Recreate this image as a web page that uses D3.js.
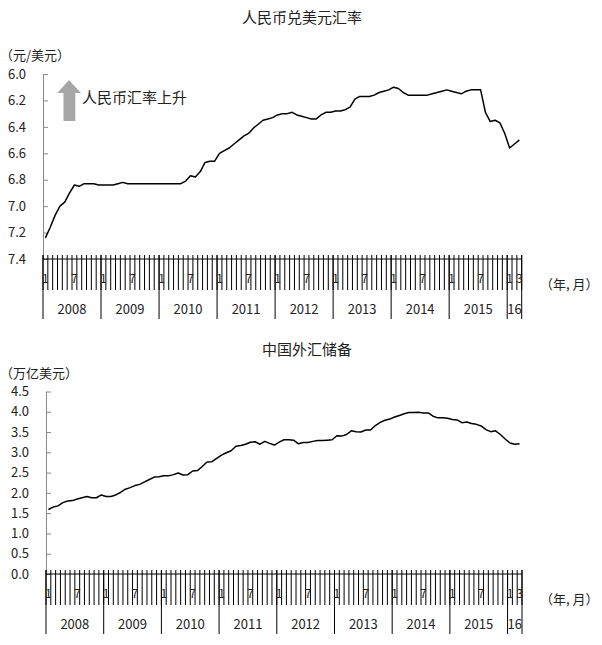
<!DOCTYPE html>
<html>
<head>
<meta charset="utf-8">
<script src="https://cdn.jsdelivr.net/npm/d3@7"></script>
<style>
  body { margin: 0; background: #fff; }
  svg text { font-family: "Noto Sans CJK SC", "Noto Sans", sans-serif; fill: #222; }
</style>
</head>
<body>
<svg id="chart" width="602" height="645"></svg>
<script>
// months Jan 2008 .. Mar 2016
const years = [2008, 2009, 2010, 2011, 2012, 2013, 2014, 2015, 2016];
const yearLabels = ['2008', '2009', '2010', '2011', '2012', '2013', '2014', '2015', '16'];
const months = years.flatMap(y => d3.range(1, y === 2016 ? 4 : 13).map(m => ({ y, m })));

// 人民币兑美元汇率 (元/美元)
const cnyRate = [
    7.24, 7.16, 7.07, 7.00, 6.97, 6.90, 6.84, 6.85, 6.83, 6.83, 6.83, 6.84,
    6.84, 6.84, 6.84, 6.83, 6.82, 6.83, 6.83, 6.83, 6.83, 6.83, 6.83, 6.83,
    6.83, 6.83, 6.83, 6.83, 6.83, 6.81, 6.77, 6.78, 6.74, 6.67, 6.66, 6.66,
    6.60, 6.58, 6.56, 6.53, 6.50, 6.47, 6.45, 6.41, 6.38, 6.35, 6.34, 6.33,
    6.31, 6.30, 6.30, 6.29, 6.31, 6.32, 6.33, 6.34, 6.34, 6.31, 6.29, 6.29,
    6.28, 6.28, 6.27, 6.25, 6.19, 6.17, 6.17, 6.17, 6.16, 6.14, 6.13, 6.12,
    6.10, 6.11, 6.14, 6.16, 6.16, 6.16, 6.16, 6.16, 6.15, 6.14, 6.13, 6.12,
    6.13, 6.14, 6.15, 6.13, 6.12, 6.12, 6.12, 6.29, 6.36, 6.35, 6.37, 6.45,
    6.56, 6.53, 6.50
];
// 中国外汇储备 (万亿美元)
const fxReserves = [
    1.59, 1.65, 1.68, 1.76, 1.80, 1.81, 1.85, 1.88, 1.91, 1.88, 1.88, 1.95,
    1.91, 1.91, 1.95, 2.01, 2.09, 2.13, 2.18, 2.21, 2.27, 2.33, 2.39, 2.40,
    2.42, 2.42, 2.45, 2.49, 2.44, 2.45, 2.54, 2.55, 2.65, 2.76, 2.77, 2.85,
    2.93, 2.99, 3.04, 3.15, 3.17, 3.20, 3.25, 3.26, 3.20, 3.27, 3.22, 3.18,
    3.25, 3.31, 3.31, 3.30, 3.21, 3.24, 3.24, 3.27, 3.29, 3.29, 3.30, 3.31,
    3.41, 3.40, 3.44, 3.53, 3.51, 3.50, 3.55, 3.55, 3.66, 3.74, 3.79, 3.82,
    3.87, 3.91, 3.95, 3.98, 3.98, 3.99, 3.97, 3.97, 3.89, 3.85, 3.85, 3.84,
    3.81, 3.80, 3.73, 3.75, 3.71, 3.69, 3.65, 3.56, 3.51, 3.53, 3.44, 3.33,
    3.23, 3.20, 3.21
];
const rateTicks = [6.0, 6.2, 6.4, 6.6, 6.8, 7.0, 7.2, 7.4];
const reserveTicks = [0, 0.5, 1, 1.5, 2, 2.5, 3, 3.5, 4, 4.5];

const svg = d3.select('#chart');

// category axis with month ticks and year groups
function monthAxis(g, x, y0) {
    const idx = d3.range(months.length);
    const bounds = idx.map(i => x(i)).concat([x.range()[1]]);
    const yearStart = years.map(y => months.findIndex(d => d.y === y));

    g.append('line')
        .attr('x1', x.range()[0]).attr('x2', x.range()[1])
        .attr('y1', y0).attr('y2', y0)
        .attr('stroke', '#000');
    g.selectAll('line.mt')
        .data(bounds)
        .enter().append('line')
        .attr('class', 'mt')
        .attr('x1', d => d).attr('x2', d => d)
        .attr('y1', y0 - 4).attr('y2', y0 + 31)
        .attr('stroke', '#000');
    g.selectAll('line.yt')
        .data(yearStart.map(i => x(i)).concat([x.range()[1]]))
        .enter().append('line')
        .attr('class', 'yt')
        .attr('x1', d => d).attr('x2', d => d)
        .attr('y1', y0 - 4).attr('y2', y0 + 60)
        .attr('stroke', '#000');
    g.selectAll('text.ml')
        .data(idx.filter(i => months[i].m === 1 || months[i].m === 7 || i === months.length - 1))
        .enter().append('text')
        .attr('class', 'ml')
        .attr('x', i => x(i) + x.bandwidth() / 2)
        .attr('y', y0 + 20)
        .attr('dy', '0.35em')
        .attr('text-anchor', 'middle')
        .attr('font-size', 12)
        .text(i => months[i].m);
    g.selectAll('text.yl')
        .data(years)
        .enter().append('text')
        .attr('class', 'yl')
        .attr('x', (y, k) => {
            const last = months.length - 1 - [...months].reverse().findIndex(d => d.y === y);
            return (x(yearStart[k]) + x(last) + x.bandwidth()) / 2;
        })
        .attr('y', y0 + 50)
        .attr('dy', '0.35em')
        .attr('text-anchor', 'middle')
        .attr('font-size', 13)
        .text((y, k) => yearLabels[k]);
}

function panel({ values, ticks, domain, top, bottom, left, right, axisY, fmt }) {
    const g = svg.append('g');
    const x = d3.scaleBand().domain(d3.range(months.length)).range([left, right]).paddingInner(0);
    const y = d3.scaleLinear().domain(domain).range([bottom, top]);

    const yAxis = d3.axisLeft(y)
        .tickValues(ticks)
        .tickFormat(fmt)
        .tickSizeInner(-5)
        .tickSizeOuter(0)
        .tickPadding(17);
    const ya = g.append('g')
        .attr('transform', `translate(${left},0)`)
        .call(yAxis);
    ya.select('.domain').attr('stroke', '#888');
    ya.selectAll('.tick line').attr('stroke', '#888');
    ya.selectAll('.tick text').attr('font-size', 13).attr('fill', '#1f1f2f');

    monthAxis(g, x, axisY);

    g.append('path')
        .datum(values)
        .attr('fill', 'none')
        .attr('stroke', '#000')
        .attr('stroke-width', 1.5)
        .attr('stroke-linejoin', 'round')
        .attr('d', d3.line()
            .x((d, i) => x(i) + x.bandwidth() / 2)
            .y(d => y(d)));
    return g;
}

// top: exchange rate (inverted axis)
panel({
    values: cnyRate, ticks: rateTicks, domain: [7.4, 6.0],
    top: 74, bottom: 259, left: 43, right: 521.7, axisY: 259,
    fmt: d3.format('.1f')
});
// bottom: reserves
panel({
    values: fxReserves, ticks: reserveTicks, domain: [0, 4.5],
    top: 391.5, bottom: 574, left: 46, right: 522, axisY: 574,
    fmt: d3.format('.1f')
});

// titles and units
const label = (x, y, t, size, anchor = 'start') => svg.append('text')
    .attr('x', x).attr('y', y).attr('dy', '0.35em')
    .attr('text-anchor', anchor).attr('font-size', size).text(t);
label(302, 18, '人民币兑美元汇率', 15, 'middle');
label(307, 350, '中国外汇储备', 15, 'middle');
label(0, 55, '（元/美元）', 13);
label(0, 373, '（万亿美元）', 13);
label(540, 284, '（年, 月）', 13);
label(540, 599, '（年, 月）', 13);

// annotation arrow
svg.append('path')
    .attr('d', 'M69,80 L81,93 L75.3,93 L75.3,121 L63.5,121 L63.5,93 L57.3,93 Z')
    .attr('fill', '#a6a6a6');
label(82, 98, '人民币汇率上升', 15);
</script>
</body>
</html>
